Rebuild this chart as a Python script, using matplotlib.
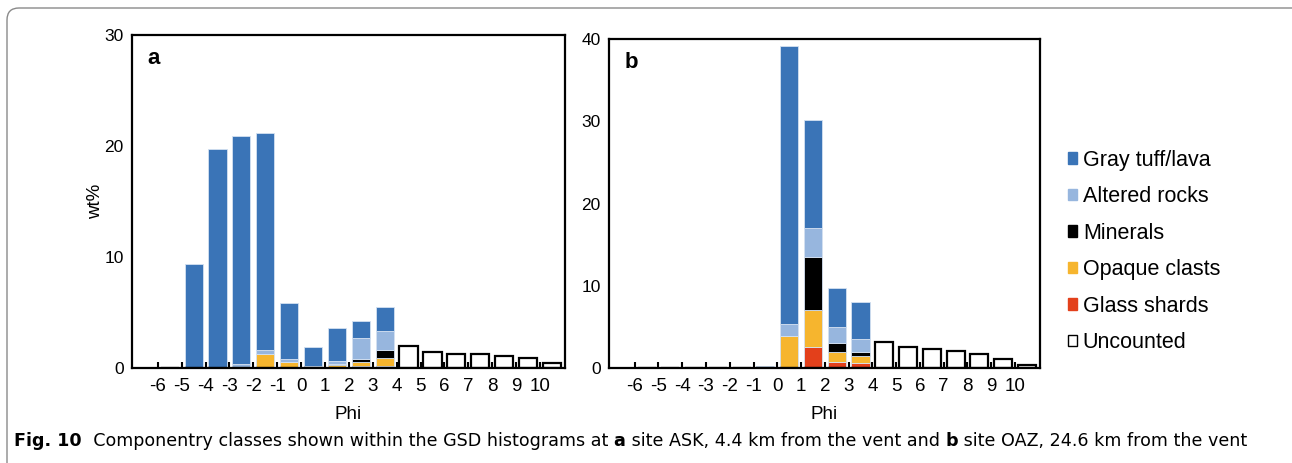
import matplotlib
matplotlib.use("Agg")
import matplotlib.pyplot as plt
from matplotlib.patches import Patch, FancyBboxPatch
import numpy as np

plt.rcParams['font.family'] = ['Liberation Sans', 'DejaVu Sans']

# lower edge of each phi bin (bin spans phi .. phi+1)
phi_bins = [-6, -5, -4, -3, -2, -1, 0, 1, 2, 3, 4, 5, 6, 7, 8, 9, 10]
tick_labels = ["-6", "-5", "-4", "-3", "-2", "-1", "0", "1", "2", "3", "4",
               "5", "6", "7", "8", "9", "10"]

# site ASK (panel a), wt%
glass_a = [0, 0, 0, 0, 0, 0, 0.03, 0, 0.15, 0.18, 0, 0, 0, 0, 0, 0, 0]
opaque_a = [0, 0, 0, 0, 1.3, 0.5, 0.1, 0.25, 0.42, 0.7, 0, 0, 0, 0, 0, 0, 0]
minerals_a = [0, 0, 0, 0, 0, 0, 0.07, 0.12, 0.25, 0.72, 0, 0, 0, 0, 0, 0, 0]
altered_a = [0, 0, 0, 0.4, 0.3, 0.3, 0, 0.25, 1.9, 1.7, 0, 0, 0, 0, 0, 0, 0]
gray_a = [0, 9.4, 19.7, 20.5, 19.6, 5.05, 1.7, 2.98, 1.55, 2.2, 0, 0, 0, 0, 0, 0, 0]
uncounted_a = [0, 0, 0, 0, 0, 0, 0, 0, 0, 0, 2.0, 1.45, 1.25, 1.25, 1.1, 0.93, 0.45]

# site OAZ (panel b), wt%
glass_b = [0, 0, 0, 0, 0, 0, 0, 2.55, 0.7, 0.55, 0, 0, 0, 0, 0, 0, 0]
opaque_b = [0, 0, 0, 0, 0, 0, 3.9, 4.45, 1.3, 0.85, 0, 0, 0, 0, 0, 0, 0]
minerals_b = [0, 0, 0, 0, 0, 0, 0, 6.5, 1.0, 0.6, 0, 0, 0, 0, 0, 0, 0]
altered_b = [0, 0, 0, 0, 0, 0, 1.45, 3.5, 2.0, 1.5, 0, 0, 0, 0, 0, 0, 0]
gray_b = [0, 0, 0, 0, 0, 0.3, 33.85, 13.2, 4.75, 4.55, 0, 0, 0, 0, 0, 0, 0]
uncounted_b = [0, 0, 0, 0, 0, 0, 0, 0, 0, 0, 3.2, 2.55, 2.3, 2.1, 1.65, 1.05, 0.4]

class_names = ["Gray tuff/lava", "Altered rocks", "Minerals", "Opaque clasts",
               "Glass shards", "Uncounted"]
class_colors = ["#3a74b7", "#97b6de", "#000000", "#f6b52e", "#e3401b", "white"]


def draw_panel(ax, glass, opaque, minerals, altered, gray, uncounted, ymax, letter):
    """stacked bars for one site, bottom to top: glass, opaque, minerals, altered, gray"""
    x = np.array(phi_bins) + 0.5
    w = 0.76
    bottom = np.zeros(len(x))
    stack = [(glass, class_colors[4]), (opaque, class_colors[3]),
             (minerals, class_colors[2]), (altered, class_colors[1]),
             (gray, class_colors[0])]
    for vals, col in stack:
        vals = np.array(vals, dtype=float)
        ax.bar(x, vals, w, bottom=bottom, color=col, edgecolor="#d4e1f1",
               linewidth=0.6)
        bottom += vals
    ax.bar(x, uncounted, w, color="white", edgecolor="black", linewidth=1.6)

    ax.set_xlim(-7.08, 11.05)
    ax.set_ylim(0, ymax)
    ax.set_xticks(phi_bins)
    ax.set_xticklabels(tick_labels)
    ax.set_yticks(np.arange(0, ymax + 1, 10))
    ax.tick_params(axis="x", direction="in", length=4, width=1.5, labelsize=13.5, pad=7)
    ax.tick_params(axis="y", length=0, labelsize=12.5, pad=6)
    for s in ax.spines.values():
        s.set_linewidth(1.6)
    ax.set_xlabel("Phi", fontsize=13.5, labelpad=8)
    ax.text(0.035, 0.93, letter, transform=ax.transAxes, fontsize=16,
            fontweight="bold", va="center", ha="left")


fig = plt.figure(figsize=(12.92, 4.63), dpi=100)

ax_a = fig.add_axes([132 / 1292, 95 / 463, 433 / 1292, 333 / 463])
ax_b = fig.add_axes([609 / 1292, 95 / 463, 431 / 1292, 329 / 463])

draw_panel(ax_a, glass_a, opaque_a, minerals_a, altered_a, gray_a, uncounted_a, 30, "a")
draw_panel(ax_b, glass_b, opaque_b, minerals_b, altered_b, gray_b, uncounted_b, 40, "b")
ax_a.set_ylabel("wt%", fontsize=13.5, labelpad=0)

# legend
handles = []
for name, col in zip(class_names, class_colors):
    ec = "black" if col == "white" else col
    handles.append(Patch(facecolor=col, edgecolor=ec, linewidth=1.0, label=name))
fig.legend(handles=handles, loc="upper left", bbox_to_anchor=(1057 / 1292, 1 - 139 / 463),
           frameon=False, fontsize=15.5, handlelength=0.45, handleheight=0.45,
           handletextpad=0.25, labelspacing=0.72, borderpad=0)

# rounded frame around the figure
frame = FancyBboxPatch((7, -20), 1300, 455 + 20, boxstyle="round,pad=0,rounding_size=12",
                       transform=None, facecolor="none", edgecolor="#8a8a8a", linewidth=1.0)
fig.patches.append(frame)

# caption with bold parts
caption = [("Fig. 10", "bold"),
           ("  Componentry classes shown within the GSD histograms at ", "normal"),
           ("a", "bold"),
           (" site ASK, 4.4 km from the vent and ", "normal"),
           ("b", "bold"),
           (" site OAZ, 24.6 km from the vent", "normal")]
renderer = fig.canvas.get_renderer()
xpos = 14
for txt, weight in caption:
    t = fig.text(xpos / 1292, 1 - 441 / 463, txt, fontsize=12.6, fontweight=weight,
                 family=["DejaVu Sans"], va="center", ha="left")
    bb = t.get_window_extent(renderer=renderer)
    xpos = bb.x1

fig.savefig("out.png", dpi=100)
